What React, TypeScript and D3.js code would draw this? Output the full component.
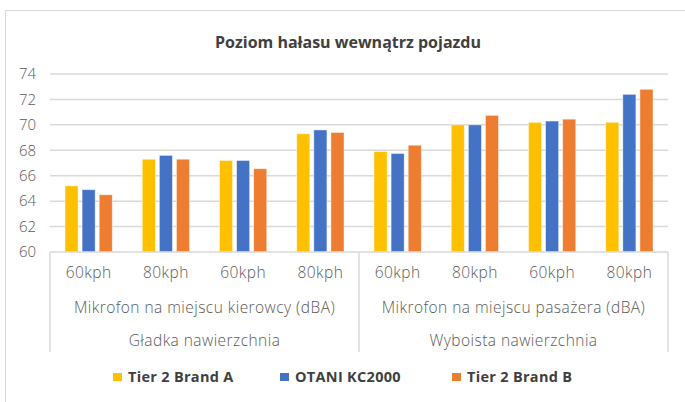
import React from "react";
import * as d3 from "d3";

const speeds = ["60kph", "80kph", "60kph", "80kph", "60kph", "80kph", "60kph", "80kph"];
const microphones = ["Mikrofon na miejscu kierowcy (dBA)", "Mikrofon na miejscu pasażera (dBA)"];
const surfaces = ["Gładka nawierzchnia", "Wyboista nawierzchnia"];
const seriesNames = ["Tier 2 Brand A", "OTANI KC2000", "Tier 2 Brand B"];
const brandA = [65.2, 67.3, 67.2, 69.3, 67.9, 70.0, 70.2, 70.2];
const otani = [64.9, 67.6, 67.2, 69.6, 67.75, 70.0, 70.3, 72.4];
const brandB = [64.5, 67.3, 66.55, 69.4, 68.4, 70.75, 70.45, 72.8];
const yTicks = [60, 62, 64, 66, 68, 70, 72, 74];

const seriesValues = [brandA, otani, brandB];
const colors = ["#FFC000", "#4472C4", "#ED7D31"];

const width = 685;
const height = 402;
const left = 50;
const right = 668;
const top = 74;
const bottom = 252;

const labelFont = "'Open Sans', 'Noto Sans', sans-serif";

export default function App() {
  const x = d3
    .scaleBand<number>()
    .domain(d3.range(speeds.length))
    .range([left, right])
    .paddingInner(0.388)
    .paddingOuter(0.194);

  const xInner = d3
    .scaleBand<number>()
    .domain(d3.range(seriesNames.length))
    .range([0, x.bandwidth()])
    .paddingInner(0.235);

  const y = d3.scaleLinear().domain([60, 74]).range([bottom, top]);

  // group boundaries for the multi-level axis (4 categories per group)
  const groupEdges = [left, (left + right) / 2, right];

  const axisText = {
    fontFamily: labelFont,
    fontWeight: 300,
    fontSize: 15.5,
    letterSpacing: 0.45,
    fill: "#595959",
  };

  return (
    <svg
      width={width}
      height={height}
      style={{ position: "absolute", left: 0, top: 0, background: "#fff" }}
    >
      <rect x={5.5} y={10.5} width={width + 10} height={height + 10} fill="#fff" stroke="#d9d9d9" />

      <text
        x={348}
        y={48}
        textAnchor="middle"
        fontFamily={labelFont}
        fontWeight={700}
        fontSize={16}
        fill="#404040"
      >
        Poziom hałasu wewnątrz pojazdu
      </text>

      {yTicks.map((t) => (
        <g key={t}>
          {t !== 60 && (
            <line x1={left} x2={right} y1={y(t)} y2={y(t)} stroke="#d9d9d9" strokeWidth={1.5} />
          )}
          <text
            x={36}
            y={y(t)}
            dy="0.35em"
            textAnchor="end"
            fontFamily={labelFont}
            fontWeight={300}
            fontSize={15}
            fill="#595959"
          >
            {t}
          </text>
        </g>
      ))}

      {seriesValues.map((vals, si) =>
        vals.map((v, i) => (
          <rect
            key={`${si}-${i}`}
            x={(x(i) ?? 0) + (xInner(si) ?? 0)}
            y={y(v)}
            width={xInner.bandwidth()}
            height={bottom - y(v)}
            fill={colors[si]}
            stroke="#fff"
            strokeOpacity={0.6}
            strokeWidth={0.75}
          />
        ))
      )}

      <line x1={left} x2={right} y1={bottom} y2={bottom} stroke="#d9d9d9" strokeWidth={1.5} />
      {groupEdges.map((gx, i) => (
        <line key={i} x1={gx} x2={gx} y1={bottom} y2={352} stroke="#d9d9d9" strokeWidth={1.5} />
      ))}

      {speeds.map((s, i) => (
        <text
          key={i}
          x={(x(i) ?? 0) + x.bandwidth() / 2}
          y={273}
          dy="0.35em"
          textAnchor="middle"
          {...axisText}
        >
          {s}
        </text>
      ))}

      {microphones.map((m, i) => (
        <text
          key={m}
          x={(groupEdges[i] + groupEdges[i + 1]) / 2}
          y={308}
          dy="0.35em"
          textAnchor="middle"
          {...axisText}
        >
          {m}
        </text>
      ))}

      {surfaces.map((s, i) => (
        <text
          key={s}
          x={(groupEdges[i] + groupEdges[i + 1]) / 2}
          y={341}
          dy="0.35em"
          textAnchor="middle"
          {...axisText}
        >
          {s}
        </text>
      ))}

      {seriesNames.map((name, i) => {
        const lx = [113, 280, 452][i];
        return (
          <g key={name}>
            <rect x={lx} y={373} width={9} height={8} fill={colors[i]} />
            <text
              x={lx + 15}
              y={377}
              dy="0.35em"
              fontFamily={labelFont}
              fontWeight={700}
              fontSize={14.5}
              letterSpacing={0.3}
              fill="#404040"
            >
              {name}
            </text>
          </g>
        );
      })}
    </svg>
  );
}
